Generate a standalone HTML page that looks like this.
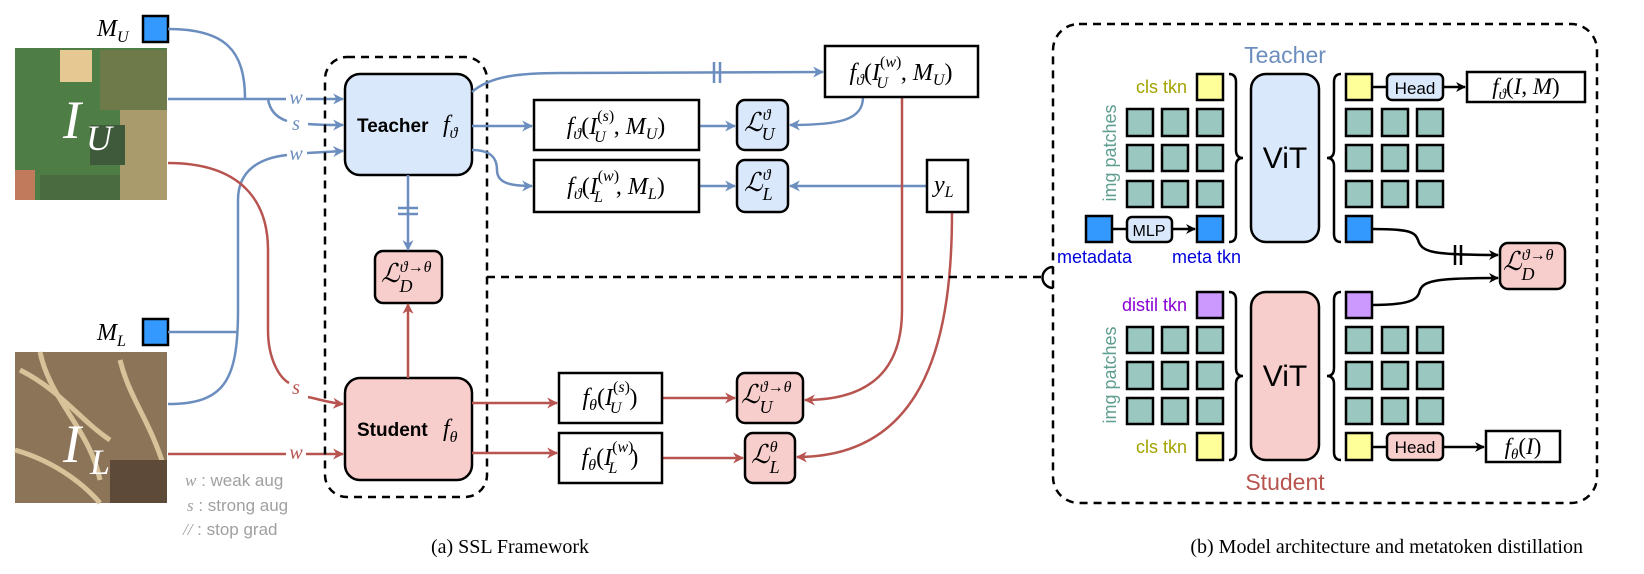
<!DOCTYPE html>
<html><head><meta charset="utf-8"><style>
html,body{margin:0;padding:0;background:#fff}
svg{display:block}
.m{font-family:"Liberation Serif","DejaVu Serif",serif;font-style:italic}
.s{font-family:"Liberation Sans","DejaVu Sans",sans-serif}
</style></head><body>
<svg width="1644" height="574" viewBox="0 0 1644 574" xmlns="http://www.w3.org/2000/svg">
<defs>
<marker id="ab" viewBox="0 0 10 10" refX="9" refY="5" markerWidth="11" markerHeight="11" orient="auto" markerUnits="userSpaceOnUse"><path d="M0,0 L10,5 L0,10 L3,5 z" fill="#6c8ebf"/></marker>
<marker id="ar" viewBox="0 0 10 10" refX="9" refY="5" markerWidth="11" markerHeight="11" orient="auto" markerUnits="userSpaceOnUse"><path d="M0,0 L10,5 L0,10 L3,5 z" fill="#b85450"/></marker>
<marker id="ak" viewBox="0 0 10 10" refX="9" refY="5" markerWidth="10" markerHeight="10" orient="auto" markerUnits="userSpaceOnUse"><path d="M0,0 L10,5 L0,10 L3,5 z" fill="#000"/></marker>
</defs>
<style>
.bl{stroke:#6c8ebf;stroke-width:2.5;fill:none}
.rd{stroke:#b85450;stroke-width:2.5;fill:none}
.bk{stroke:#000;stroke-width:2.5;fill:none}
.bx{fill:#fff;stroke:#000;stroke-width:2.5}
.tb{fill:#dae8fc;stroke:#000;stroke-width:2.5}
.pk{fill:#f8cecc;stroke:#000;stroke-width:2.5}
.g{fill:#9ac7bf;stroke:#000;stroke-width:2.5}
.y{fill:#ffff99;stroke:#000;stroke-width:2.5}
.p{fill:#cc99ff;stroke:#000;stroke-width:2.5}
.u{fill:#3399ff;stroke:#000;stroke-width:2.5}
.dash{fill:none;stroke:#000;stroke-width:2.5;stroke-dasharray:8 6}
</style>

<!-- Left images -->
<rect x="15" y="48" width="152" height="152" fill="#4f7d46"/>
<rect x="60" y="50" width="32" height="32" fill="#e6c992"/>
<rect x="100" y="50" width="67" height="60" fill="#6f7a4a"/>
<rect x="120" y="110" width="47" height="90" fill="#a99b6b"/>
<rect x="90" y="125" width="35" height="40" fill="#3e5a3a"/>
<rect x="15" y="170" width="20" height="30" fill="#c27a5c"/>
<rect x="40" y="175" width="80" height="25" fill="#4a6a40"/>
<text x="63" y="138" class="m" font-size="54" fill="#fff">I</text>
<text x="86" y="150" class="m" font-size="36" fill="#fff">U</text>

<rect x="15" y="352" width="152" height="151" fill="#8b7457"/>
<path d="M20,370 C60,390 80,420 110,440 M40,352 C50,400 90,430 100,480 M120,360 C130,400 150,420 165,470 M15,450 C50,460 80,480 100,503" stroke="#d8c29a" stroke-width="5" fill="none"/>
<rect x="110" y="460" width="57" height="43" fill="#5d4a38"/>
<text x="63" y="462" class="m" font-size="54" fill="#fff">I</text>
<text x="90" y="474" class="m" font-size="36" fill="#fff">L</text>

<!-- M_U, M_L -->
<text x="97" y="36" class="m" font-size="24">M<tspan font-size="16" dy="6">U</tspan></text>
<rect x="143" y="16" width="25" height="26" class="u"/>
<text x="97" y="340" class="m" font-size="24">M<tspan font-size="16" dy="6">L</tspan></text>
<rect x="143" y="319" width="25" height="26" class="u"/>

<!-- left connectors -->
<path class="bl" d="M168,29 C225,29 245,50 245,99"/>
<path class="bl" d="M168,99 L286,99"/>
<path class="bl" d="M306,99 L343,99" marker-end="url(#ab)"/>
<path class="bl" d="M268,99 C270,112 278,118 287,121"/>
<path class="bl" d="M308,124 C320,125 330,125 343,125" marker-end="url(#ab)"/>
<path class="bl" d="M168,404 C225,404 238,380 238,310 L238,200 C238,170 260,158 287,155"/>
<path class="bl" d="M307,153 L343,151" marker-end="url(#ab)"/>
<path class="bl" d="M168,332 L238,332"/>
<text x="296" y="104" class="m" font-size="20" fill="#6c8ebf" text-anchor="middle">w</text>
<text x="296" y="130" class="m" font-size="20" fill="#6c8ebf" text-anchor="middle">s</text>
<text x="296" y="160" class="m" font-size="20" fill="#6c8ebf" text-anchor="middle">w</text>

<path class="rd" d="M168,163 C240,163 268,200 268,250 L268,330 C268,360 280,378 289,383"/>
<path class="rd" d="M308,397 C322,400 330,403 343,404" marker-end="url(#ar)"/>
<path class="rd" d="M168,454 L286,454"/>
<path class="rd" d="M306,454 L343,454" marker-end="url(#ar)"/>
<text x="296" y="394" class="m" font-size="20" fill="#b85450" text-anchor="middle">s</text>
<text x="296" y="459" class="m" font-size="20" fill="#b85450" text-anchor="middle">w</text>

<!-- legend -->
<text x="185" y="486" font-size="17" fill="#a0a0a0"><tspan class="m">w</tspan><tspan class="s"> : weak aug</tspan></text>
<text x="187" y="511" font-size="17" fill="#a0a0a0"><tspan class="m">s</tspan><tspan class="s">  : strong aug</tspan></text>
<text x="183" y="535" font-size="17" fill="#a0a0a0"><tspan class="m">//</tspan><tspan class="s"> : stop grad</tspan></text>

<!-- dashed group -->
<rect x="325" y="57" width="162" height="440" rx="22" class="dash"/>
<rect x="345" y="74" width="127" height="101" rx="15" class="tb"/>
<text x="357" y="132" class="s" font-size="19" font-weight="bold">Teacher</text>
<text x="443" y="132" class="m" font-size="24">f<tspan font-size="16" dy="6">ϑ</tspan></text>
<rect x="345" y="378" width="127" height="102" rx="15" class="pk"/>
<text x="357" y="436" class="s" font-size="19" font-weight="bold">Student</text>
<text x="443" y="436" class="m" font-size="24">f<tspan font-size="16" dy="6">θ</tspan></text>
<rect x="375" y="251" width="67" height="52" rx="8" class="pk"/>
<text x="381" y="282" class="m" font-size="26">ℒ<tspan font-size="16" dy="-10">ϑ→θ</tspan><tspan font-size="18" dx="-32" dy="20">D</tspan></text>
<path class="bl" d="M408,175 L408,250" marker-end="url(#ab)"/>
<path d="M398,208 L418,208 M398,214 L418,214" stroke="#6c8ebf" stroke-width="2.5"/>
<path class="rd" d="M408,378 L408,304" marker-end="url(#ar)"/>

<!-- middle -->
<path class="bl" d="M472,92 C490,76 520,73 560,73 L823,72" marker-end="url(#ab)"/>
<path d="M714,62 L714,83 M720,62 L720,83" stroke="#6c8ebf" stroke-width="2.5"/>
<path class="bl" d="M472,126 L532,126" marker-end="url(#ab)"/>
<path class="bl" d="M472,150 C493,150 497,160 497,170 C497,183 510,186 532,186" marker-end="url(#ab)"/>
<path class="bl" d="M699,126 L735,126" marker-end="url(#ab)"/>
<path class="bl" d="M699,186 L735,186" marker-end="url(#ab)"/>
<path class="bl" d="M863,97 C863,120 840,125 790,125" marker-end="url(#ab)"/>
<path class="bl" d="M927,186 L790,186" marker-end="url(#ab)"/>
<path class="rd" d="M902,97 L902,310 C902,370 870,400 805,400" marker-end="url(#ar)"/>
<path class="rd" d="M952,212 C952,330 930,457 797,457" marker-end="url(#ar)"/>

<rect x="534" y="100" width="165" height="50" class="bx"/>
<text x="616" y="134" class="m" font-size="24" text-anchor="middle">f<tspan font-size="16" dy="5">ϑ</tspan><tspan dy="-5" font-style="normal">(</tspan>I<tspan font-size="16" dy="-13" font-style="normal">(</tspan><tspan font-size="16">s</tspan><tspan font-size="16" font-style="normal">)</tspan><tspan font-size="16" dx="-20" dy="21">U</tspan><tspan dx="8" dy="-8" font-style="normal">, </tspan>M<tspan font-size="16" dy="5">U</tspan><tspan dy="-5" font-style="normal">)</tspan></text>
<rect x="534" y="160" width="165" height="52" class="bx"/>
<text x="616" y="194" class="m" font-size="24" text-anchor="middle">f<tspan font-size="16" dy="5">ϑ</tspan><tspan dy="-5" font-style="normal">(</tspan>I<tspan font-size="16" dy="-13" font-style="normal">(</tspan><tspan font-size="16">w</tspan><tspan font-size="16" font-style="normal">)</tspan><tspan font-size="16" dx="-25" dy="21">L</tspan><tspan dx="13" dy="-8" font-style="normal">, </tspan>M<tspan font-size="16" dy="5">L</tspan><tspan dy="-5" font-style="normal">)</tspan></text>
<rect x="825" y="46" width="153" height="51" class="bx"/>
<text x="901" y="80" class="m" font-size="24" text-anchor="middle">f<tspan font-size="16" dy="5">ϑ</tspan><tspan dy="-5" font-style="normal">(</tspan>I<tspan font-size="16" dy="-13" font-style="normal">(</tspan><tspan font-size="16">w</tspan><tspan font-size="16" font-style="normal">)</tspan><tspan font-size="16" dx="-25" dy="21">U</tspan><tspan dx="13" dy="-8" font-style="normal">, </tspan>M<tspan font-size="16" dy="5">U</tspan><tspan dy="-5" font-style="normal">)</tspan></text>
<rect x="927" y="160" width="41" height="52" class="bx"/>
<text x="934" y="192" class="m" font-size="24">y<tspan font-size="16" dy="5">L</tspan></text>

<rect x="737" y="100" width="51" height="50" rx="8" class="tb"/>
<text x="744" y="131" class="m" font-size="26">ℒ<tspan font-size="16" dy="-11">ϑ</tspan><tspan font-size="18" dx="-9" dy="20">U</tspan></text>
<rect x="737" y="160" width="51" height="52" rx="8" class="tb"/>
<text x="744" y="191" class="m" font-size="26">ℒ<tspan font-size="16" dy="-11">ϑ</tspan><tspan font-size="18" dx="-8" dy="20">L</tspan></text>

<path class="rd" d="M472,403 L557,403" marker-end="url(#ar)"/>
<path class="rd" d="M472,453 L557,453" marker-end="url(#ar)"/>
<path class="rd" d="M662,398 L735,398" marker-end="url(#ar)"/>
<path class="rd" d="M662,458 L743,458" marker-end="url(#ar)"/>
<rect x="559" y="373" width="103" height="50" class="bx"/>
<text x="610" y="405" class="m" font-size="24" text-anchor="middle">f<tspan font-size="16" dy="5">θ</tspan><tspan dy="-5" font-style="normal">(</tspan>I<tspan font-size="16" dy="-13" font-style="normal">(</tspan><tspan font-size="16">s</tspan><tspan font-size="16" font-style="normal">)</tspan><tspan font-size="16" dx="-20" dy="21">U</tspan><tspan dx="8" dy="-8" font-style="normal">)</tspan></text>
<rect x="559" y="433" width="103" height="50" class="bx"/>
<text x="610" y="465" class="m" font-size="24" text-anchor="middle">f<tspan font-size="16" dy="5">θ</tspan><tspan dy="-5" font-style="normal">(</tspan>I<tspan font-size="16" dy="-13" font-style="normal">(</tspan><tspan font-size="16">w</tspan><tspan font-size="16" font-style="normal">)</tspan><tspan font-size="16" dx="-25" dy="21">L</tspan><tspan dx="13" dy="-8" font-style="normal">)</tspan></text>
<rect x="737" y="373" width="66" height="50" rx="8" class="pk"/>
<text x="741" y="403" class="m" font-size="26">ℒ<tspan font-size="16" dy="-11">ϑ→θ</tspan><tspan font-size="18" dx="-32" dy="21">U</tspan></text>
<rect x="745" y="433" width="50" height="50" rx="8" class="pk"/>
<text x="751" y="463" class="m" font-size="26">ℒ<tspan font-size="16" dy="-11">θ</tspan><tspan font-size="18" dx="-8" dy="21">L</tspan></text>

<!-- dashed link -->
<path d="M487,277 L1043,277" class="dash"/>
<path d="M1053,267 A10,10 0 0 0 1053,288" stroke="#000" stroke-width="2.5" fill="none"/>

<!-- captions -->
<text x="510" y="553" font-family="'Liberation Serif',serif" font-size="20" text-anchor="middle">(a) SSL Framework</text>
<text x="1583" y="553" font-family="'Liberation Serif',serif" font-size="20" text-anchor="end">(b) Model architecture and metatoken distillation</text>

<!-- right panel -->
<rect x="1053" y="24" width="544" height="479" rx="26" class="dash"/>
<text x="1285" y="63" class="s" font-size="23" fill="#6c8ebf" text-anchor="middle">Teacher</text>
<text x="1285" y="490" class="s" font-size="23" fill="#b85450" text-anchor="middle">Student</text>

<!-- teacher left tokens -->
<text x="1187" y="93" class="s" font-size="18" fill="#a3a300" text-anchor="end">cls tkn</text>
<rect x="1197" y="74" width="26" height="26" class="y"/>
<g class="g">
<rect x="1127" y="109" width="26" height="27"/><rect x="1162" y="109" width="26" height="27"/><rect x="1197" y="109" width="26" height="27"/>
<rect x="1127" y="145" width="26" height="26"/><rect x="1162" y="145" width="26" height="26"/><rect x="1197" y="145" width="26" height="26"/>
<rect x="1127" y="181" width="26" height="26"/><rect x="1162" y="181" width="26" height="26"/><rect x="1197" y="181" width="26" height="26"/>
</g>
<text transform="translate(1116,153) rotate(-90)" class="s" font-size="18" fill="#5f9e90" text-anchor="middle">img patches</text>
<rect x="1086" y="216" width="26" height="26" class="u"/>
<path class="bk" d="M1112,229 L1127,229"/>
<rect x="1127" y="217" width="45" height="25" rx="5" class="tb"/>
<text x="1149" y="236" class="s" font-size="16" text-anchor="middle">MLP</text>
<path class="bk" d="M1172,229 L1195,229" marker-end="url(#ak)"/>
<rect x="1197" y="216" width="26" height="26" class="u"/>
<text x="1057" y="263" class="s" font-size="18" fill="#0000dd">metadata</text>
<text x="1172" y="263" class="s" font-size="18" fill="#0000dd">meta tkn</text>
<path class="bk" d="M1229,74 Q1236,74 1236,82 L1236,150 Q1236,158 1243,158 Q1236,158 1236,166 L1236,234 Q1236,242 1229,242"/>
<rect x="1251" y="74" width="68" height="168" rx="15" class="tb"/>
<text x="1285" y="168" class="s" font-size="30" text-anchor="middle">ViT</text>
<path class="bk" d="M1341,74 Q1334,74 1334,82 L1334,150 Q1334,158 1327,158 Q1334,158 1334,166 L1334,234 Q1334,242 1341,242"/>
<rect x="1346" y="74" width="26" height="26" class="y"/>
<g class="g">
<rect x="1346" y="109" width="26" height="27"/><rect x="1382" y="109" width="26" height="27"/><rect x="1417" y="109" width="26" height="27"/>
<rect x="1346" y="145" width="26" height="26"/><rect x="1382" y="145" width="26" height="26"/><rect x="1417" y="145" width="26" height="26"/>
<rect x="1346" y="181" width="26" height="26"/><rect x="1382" y="181" width="26" height="26"/><rect x="1417" y="181" width="26" height="26"/>
</g>
<rect x="1346" y="216" width="26" height="26" class="u"/>
<path class="bk" d="M1372,87 L1387,87"/>
<rect x="1387" y="74" width="56" height="26" rx="5" class="tb"/>
<text x="1415" y="94" class="s" font-size="17" text-anchor="middle">Head</text>
<path class="bk" d="M1443,87 L1465,87" marker-end="url(#ak)"/>
<rect x="1467" y="72" width="118" height="30" class="bx"/>
<text x="1526" y="94" class="m" font-size="23" text-anchor="middle">f<tspan font-size="15" dy="5">ϑ</tspan><tspan dy="-5" font-style="normal">(</tspan>I<tspan font-style="normal">, </tspan>M<tspan font-style="normal">)</tspan></text>

<!-- student tokens -->
<text x="1187" y="311" class="s" font-size="18" fill="#8a00d4" text-anchor="end">distil tkn</text>
<rect x="1197" y="292" width="26" height="26" class="p"/>
<g class="g">
<rect x="1127" y="327" width="26" height="26"/><rect x="1162" y="327" width="26" height="26"/><rect x="1197" y="327" width="26" height="26"/>
<rect x="1127" y="362" width="26" height="27"/><rect x="1162" y="362" width="26" height="27"/><rect x="1197" y="362" width="26" height="27"/>
<rect x="1127" y="398" width="26" height="26"/><rect x="1162" y="398" width="26" height="26"/><rect x="1197" y="398" width="26" height="26"/>
</g>
<text transform="translate(1116,375) rotate(-90)" class="s" font-size="18" fill="#5f9e90" text-anchor="middle">img patches</text>
<text x="1187" y="453" class="s" font-size="18" fill="#a3a300" text-anchor="end">cls tkn</text>
<rect x="1197" y="433" width="26" height="27" class="y"/>
<path class="bk" d="M1229,292 Q1236,292 1236,300 L1236,368 Q1236,376 1243,376 Q1236,376 1236,384 L1236,452 Q1236,460 1229,460"/>
<rect x="1251" y="292" width="68" height="168" rx="15" class="pk"/>
<text x="1285" y="386" class="s" font-size="30" text-anchor="middle">ViT</text>
<path class="bk" d="M1341,292 Q1334,292 1334,300 L1334,368 Q1334,376 1327,376 Q1334,376 1334,384 L1334,452 Q1334,460 1341,460"/>
<rect x="1346" y="292" width="26" height="26" class="p"/>
<g class="g">
<rect x="1346" y="327" width="26" height="26"/><rect x="1382" y="327" width="26" height="26"/><rect x="1417" y="327" width="26" height="26"/>
<rect x="1346" y="362" width="26" height="27"/><rect x="1382" y="362" width="26" height="27"/><rect x="1417" y="362" width="26" height="27"/>
<rect x="1346" y="398" width="26" height="26"/><rect x="1382" y="398" width="26" height="26"/><rect x="1417" y="398" width="26" height="26"/>
</g>
<rect x="1346" y="433" width="26" height="27" class="y"/>
<path class="bk" d="M1372,447 L1387,447"/>
<rect x="1387" y="433" width="56" height="27" rx="5" class="pk"/>
<text x="1415" y="453" class="s" font-size="17" text-anchor="middle">Head</text>
<path class="bk" d="M1443,447 L1484,447" marker-end="url(#ak)"/>
<rect x="1486" y="431" width="74" height="31" class="bx"/>
<text x="1523" y="454" class="m" font-size="23" text-anchor="middle">f<tspan font-size="15" dy="5">θ</tspan><tspan dy="-5" font-style="normal">(</tspan>I<tspan font-style="normal">)</tspan></text>

<!-- distillation connectors -->
<path class="bk" d="M1372,229 C1410,229 1415,232 1418,240 C1422,252 1430,255 1498,255" marker-end="url(#ak)"/>
<path d="M1455,245 L1455,265 M1461,245 L1461,265" stroke="#000" stroke-width="2.5"/>
<path class="bk" d="M1372,305 C1415,305 1418,298 1420,290 C1424,280 1440,278 1498,278" marker-end="url(#ak)"/>
<rect x="1500" y="243" width="65" height="46" rx="8" class="pk"/>
<text x="1503" y="270" class="m" font-size="26">ℒ<tspan font-size="16" dy="-10">ϑ→θ</tspan><tspan font-size="18" dx="-32" dy="20">D</tspan></text>
</svg>
</body></html>
